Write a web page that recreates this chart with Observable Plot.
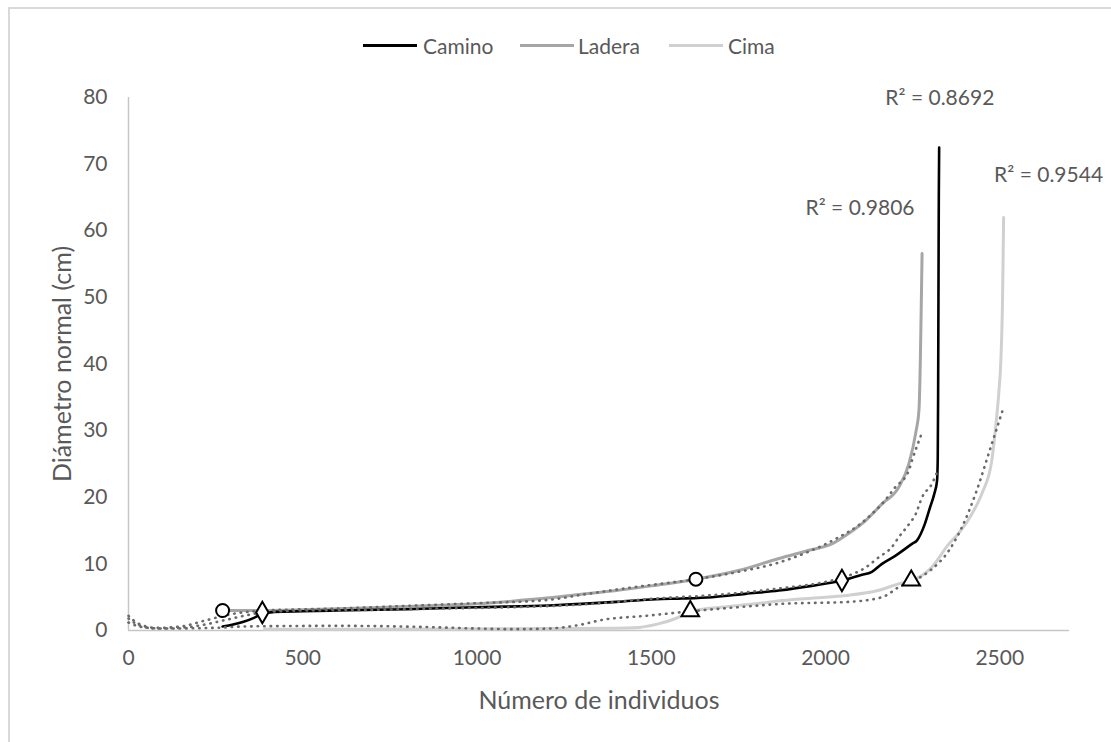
<!DOCTYPE html>
<html><head><meta charset="utf-8">
<script src="https://cdn.jsdelivr.net/npm/d3@7"></script>
<script src="https://cdn.jsdelivr.net/npm/@observablehq/plot@0.6"></script>
<style>
html,body{margin:0;padding:0;background:#fff;overflow:hidden;}
#wrap{position:relative;width:1111px;height:742px;font-family:Lato,"Open Sans",sans-serif;color:#595959;overflow:hidden;}
#frame{position:absolute;left:8px;top:7px;width:1200px;height:800px;border:2px solid #d9d9d9;box-sizing:border-box;}
#legend{position:absolute;left:0;top:0;width:1111px;height:65px;font-size:21px;}
.sw{position:absolute;top:44px;width:54px;height:3px;}
.lt{position:absolute;top:33px;line-height:26px;}
#chart{position:absolute;left:0;top:65px;}
</style></head>
<body>
<div id="wrap">
  <div id="frame"></div>
  <div id="legend"></div>
  <div id="chart"></div>
</div>
<script>
// ---- data ----
const seriesNames = ["Camino", "Ladera", "Cima"];
const seriesColors = ["#000000", "#a6a6a6", "#d0d0d0"];

const caminoX = [270,300,330,360,384,420,500,600,800,1000,1207,1300,1400,1514,1589,1675,1770,1866,1960,2047,2100,2133,2162,2200,2248,2262,2285,2300,2312,2320,2322,2323,2324,2325,2326];
const caminoY = [0.6,0.9,1.3,1.9,2.5,2.8,2.9,3.0,3.2,3.5,3.75,4.0,4.3,4.7,4.8,5.0,5.5,6.0,6.7,7.5,8.3,8.8,10.0,11.2,13.0,13.5,16,18.5,20.5,22.5,26,35,50,65,72.5];

const laderaX = [270,384,500,700,900,1000,1100,1207,1293,1400,1500,1628,1750,1866,1950,2018,2067,2115,2162,2210,2239,2260,2268,2272,2275,2277];
const laderaY = [3.0,3.0,3.1,3.4,3.8,4.0,4.4,4.9,5.4,6.0,6.7,7.7,9.0,10.8,12.0,13.0,14.6,16.5,19.0,21.5,25.0,30.0,33,40.5,50,56.6];

const cimaX = [390,800,1200,1400,1450,1520,1570,1610,1700,1800,1875,2000,2067,2150,2210,2248,2305,2354,2382,2420,2449,2477,2488,2497,2503,2508,2511];
const cimaY = [0.2,0.2,0.3,0.35,0.4,1.0,1.8,2.8,3.5,4.0,4.5,5.0,5.3,6.0,7.0,7.5,9.5,13.0,14.6,17.5,20.6,25.5,30.5,35.6,40.5,50,62];

// trendlines (dotted)
const caminoTrendX = [0,30,80,150,220,280,340,400,500,700,900,1100,1300,1514,1700,1866,2000,2047,2116,2153,2190,2210,2240,2259,2277,2305,2322];
const caminoTrendY = [1.8,0.8,0.3,0.4,0.9,1.6,2.3,2.8,3.0,3.1,3.3,3.5,3.9,4.8,5.4,6.3,7.3,7.9,9.5,11.0,12.5,14,16,17.5,20,22,24];

const laderaTrendX = [0,30,80,150,220,300,395,600,800,1000,1207,1293,1450,1628,1750,1866,1950,2038,2100,2133,2162,2200,2239,2248,2277];
const laderaTrendY = [2.2,1.0,0.4,0.6,1.5,2.5,3.0,3.3,3.7,4.1,4.6,5.3,6.5,7.7,8.8,10.2,11.8,14.0,16,17.5,19,21.5,24,25.5,29.7];

const cimaTrendX = [0,40,100,250,330,600,870,1000,1100,1207,1300,1350,1494,1617,1750,1875,2067,2162,2220,2245,2300,2354,2400,2431,2477,2511];
const cimaTrendY = [1.2,0.5,0.3,0.4,0.6,0.7,0.5,0.3,0.2,0.3,0.9,1.5,2.25,2.9,3.5,4.0,4.3,5.0,6.8,7.3,9.0,12,16.5,20.6,28,33.5];

// breakpoint markers
const markerSymbols = ["circle","circle","diamond","diamond","triangle","triangle"];
const markerX = [270,1628,384,2047,1612,2246];
const markerY = [3.0,7.7,2.7,7.5,2.9,7.5];

// R² labels
const r2Labels = ["R² = 0.8692","R² = 0.9806","R² = 0.9544"];
const r2X = [2328,2099,2640];
const r2Y = [79.9,63.4,68.3];

const xTicks = [0,500,1000,1500,2000,2500];
const yTicks = [0,10,20,30,40,50,60,70,80];

// ---- build ----
const rows = (xs, ys) => xs.map((x, i) => ({x, y: ys[i]}));
const camino = rows(caminoX, caminoY);
const ladera = rows(laderaX, laderaY);
const cima = rows(cimaX, cimaY);
const trends = [rows(caminoTrendX, caminoTrendY), rows(laderaTrendX, laderaTrendY), rows(cimaTrendX, cimaTrendY)];
const markers = markerX.map((x, i) => ({x, y: markerY[i], s: markerSymbols[i]}));
const r2 = r2Labels.map((t, i) => ({t, x: r2X[i], y: r2Y[i]}));

// legend
const legend = document.getElementById("legend");
const swLeft = [363, 520, 669], txLeft = [423, 578, 728];
seriesNames.forEach((n, i) => {
  const s = document.createElement("div");
  s.className = "sw"; s.style.left = swLeft[i] + "px"; s.style.background = seriesColors[i];
  const t = document.createElement("div");
  t.className = "lt"; t.style.left = txLeft[i] + "px"; t.textContent = n;
  legend.appendChild(s); legend.appendChild(t);
});

const dotted = {stroke: "#6a6a6a", strokeWidth: 2.6, strokeDasharray: "0.5 6", strokeLinecap: "round", curve: "monotone-x"};

const chart = Plot.plot({
  width: 1111, height: 677,
  marginTop: 32, marginBottom: 112, marginLeft: 128, marginRight: 42,
  x: {domain: [0, 2700]},
  y: {domain: [0, 80]},
  symbol: {domain: ["circle","diamond","triangle"], range: ["circle","diamond","triangle"]},
  style: {fontFamily: "Lato, 'Open Sans', sans-serif", fontSize: "21px", color: "#595959", background: "transparent", overflow: "visible"},
  marks: [
    Plot.ruleY([0], {stroke: "#c6c6c6", strokeWidth: 1.5}),
    Plot.ruleX([0], {stroke: "#c6c6c6", strokeWidth: 1.5}),
    Plot.axisX({ticks: xTicks, tickSize: 0, tickPadding: 20, tickFormat: d => String(d), label: null, fill: "#595959", fontSize: 21}),
    Plot.axisY({ticks: yTicks, tickSize: 0, tickPadding: 21, tickFormat: d => String(d), label: null, fill: "#595959", fontSize: 21}),
    Plot.text(["Número de individuos"], {frameAnchor: "bottom", dy: 70, textAnchor: "middle", lineAnchor: "middle", fill: "#595959", fontSize: 25}),
    Plot.text(["Diámetro normal (cm)"], {frameAnchor: "left", dx: -66, rotate: -90, textAnchor: "middle", lineAnchor: "middle", fill: "#595959", fontSize: 25}),
    Plot.line(cima, {x: "x", y: "y", stroke: seriesColors[2], strokeWidth: 3, curve: "monotone-x"}),
    Plot.line(ladera, {x: "x", y: "y", stroke: seriesColors[1], strokeWidth: 3, curve: "monotone-x"}),
    Plot.line(camino, {x: "x", y: "y", stroke: seriesColors[0], strokeWidth: 2.6, curve: "monotone-x"}),
    ...trends.map(t => Plot.line(t, {x: "x", y: "y", ...dotted})),
    Plot.dot(markers, {x: "x", y: "y", symbol: "s", r: 6.5, stroke: "#000", strokeWidth: 2, fill: "#fff"}),
    Plot.text(r2, {x: "x", y: "y", text: "t", fill: "#595959", fontSize: 21})
  ]
});
document.getElementById("chart").appendChild(chart);
</script>
</body></html>
